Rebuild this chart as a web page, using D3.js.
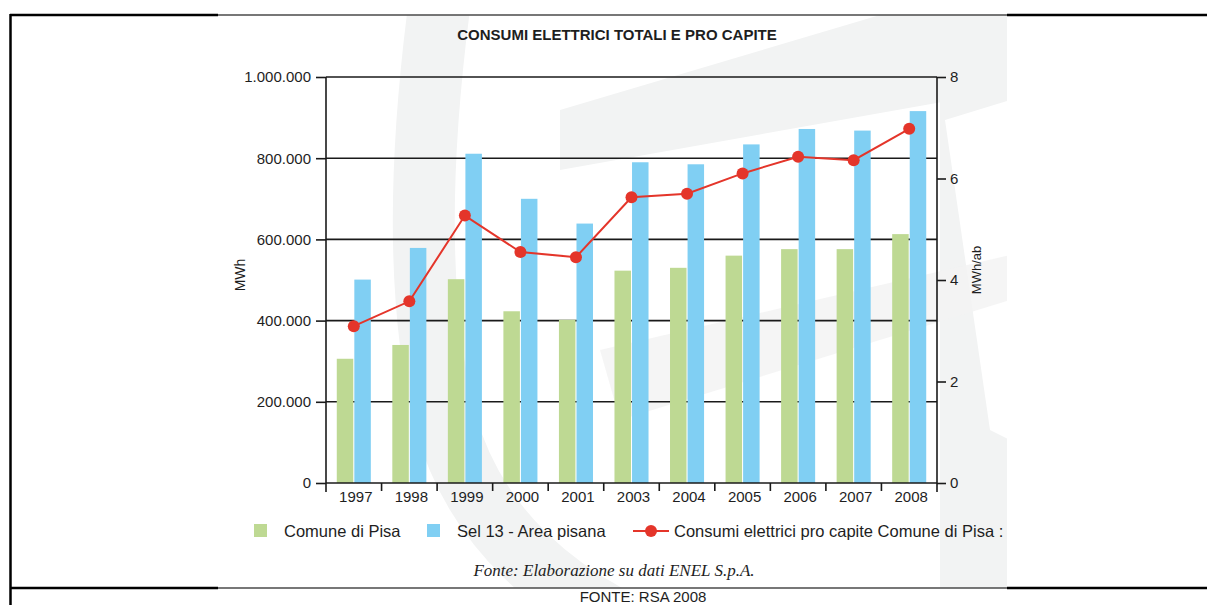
<!DOCTYPE html>
<html>
<head>
<meta charset="utf-8">
<script src="https://cdn.jsdelivr.net/npm/d3@7"></script>
<style>
  html, body { margin: 0; padding: 0; background: #fff; }
  svg { display: block; }
  text { font-family: "Liberation Sans", Arial, sans-serif; fill: #1e1e1e; }
</style>
</head>
<body>
<svg id="chart" width="1207" height="605"></svg>
<script>
// Annual electricity consumption, Pisa municipality vs. SEL 13 area (MWh),
// with per-capita consumption of the municipality (MWh per inhabitant).
const years = ["1997", "1998", "1999", "2000", "2001", "2003", "2004", "2005", "2006", "2007", "2008"];
const comunePisa = [306000, 340000, 502000, 423000, 402000, 523000, 530000, 560000, 576000, 576000, 613000];
const areaPisana = [501000, 579000, 811000, 700000, 639000, 790000, 785000, 834000, 872000, 868000, 916000];
const proCapite = [3.09, 3.58, 5.27, 4.55, 4.45, 5.63, 5.70, 6.10, 6.43, 6.36, 6.98];
const leftTicks = [0, 200000, 400000, 600000, 800000, 1000000];
const rightTicks = [0, 2, 4, 6, 8];
const seriesNames = ["Comune di Pisa", "Sel 13 - Area pisana", "Consumi elettrici pro capite Comune di Pisa :"];

const colors = { green: "#bed993", blue: "#80cff3", red: "#e4352a" };

const svg = d3.select("#chart");
const W = 1207, H = 605;

// page frame
const frame = svg.append("g");
const pic = { x0: 218, x1: 1007, y0: 15, y1: 588 };

// faint logo watermark inside the embedded figure
const defs = svg.append("defs");
defs.append("clipPath").attr("id", "picClip")
  .append("rect").attr("x", pic.x0).attr("y", pic.y0)
  .attr("width", pic.x1 - pic.x0).attr("height", pic.y1 - pic.y0);
const wm = svg.append("g").attr("clip-path", "url(#picClip)");
const wmFill = "#f2f3f3";
// sweeping left arc
wm.append("path")
  .attr("d", "M440,0 C420,150 415,300 445,420 C475,530 560,600 660,640")
  .attr("fill", "none").attr("stroke", wmFill).attr("stroke-width", 62);
// top-right band
wm.append("path")
  .attr("d", "M560,170 L1010,90 L1010,15 L880,15 L560,110 Z")
  .attr("fill", wmFill);
// right strip with diagonal cuts
wm.append("path")
  .attr("d", "M940,15 L1010,15 L1010,588 L940,588 Z")
  .attr("fill", wmFill);
wm.append("path")
  .attr("d", "M1010,100 L945,120 L990,430 L1010,440 Z")
  .attr("fill", "#ffffff");
// lower band
wm.append("path")
  .attr("d", "M600,350 L1010,255 L1010,300 L620,420 Z")
  .attr("fill", wmFill).attr("opacity", 0.8);

// frame lines
frame.raise();
const blackLines = [
  [10, 15, pic.x0, 15], [pic.x1, 15, W, 15],
  [10, 588, pic.x0, 588], [pic.x1, 588, W, 588]
];
blackLines.forEach(l => frame.append("line")
  .attr("x1", l[0]).attr("y1", l[1]).attr("x2", l[2]).attr("y2", l[3])
  .attr("stroke", "#000").attr("stroke-width", 2.5));
[[pic.x0, 15, pic.x1, 15], [pic.x0, 588, pic.x1, 588]].forEach(l => frame.append("line")
  .attr("x1", l[0]).attr("y1", l[1]).attr("x2", l[2]).attr("y2", l[3])
  .attr("stroke", "#4a4a4a").attr("stroke-width", 1.6));
frame.append("line").attr("x1", 10.5).attr("y1", 14).attr("x2", 10.5).attr("y2", H)
  .attr("stroke", "#000").attr("stroke-width", 2.5);

// plot geometry
const plot = { left: 326, right: 937, top: 77, bottom: 483 };

const x = d3.scaleBand().domain(years)
  .range([plot.left, plot.right]).paddingInner(0.387).paddingOuter(0.194);
const xSub = d3.scaleBand().domain(["comune", "area"])
  .range([0, x.bandwidth()]).paddingInner(0.06);
const yL = d3.scaleLinear().domain([0, 1000000]).range([plot.bottom, plot.top]);
const yR = d3.scaleLinear().domain([0, 8]).range([plot.bottom, plot.top]);

const it = d3.formatLocale({ decimal: ",", thousands: ".", grouping: [3], currency: ["€", ""] });
const fmt = it.format(",d");

const g = svg.append("g");

// horizontal grid lines (behind bars)
g.append("g").selectAll("line").data(leftTicks.filter(d => d > 0)).join("line")
  .attr("x1", plot.left).attr("x2", plot.right)
  .attr("y1", d => yL(d)).attr("y2", d => yL(d))
  .attr("stroke", "#1a1a1a").attr("stroke-width", 1.6);

// bars
const barG = g.append("g");
barG.selectAll("rect.comune").data(years).join("rect")
  .attr("x", (d) => x(d) + xSub("comune"))
  .attr("width", xSub.bandwidth())
  .attr("y", (d, i) => yL(comunePisa[i]))
  .attr("height", (d, i) => yL(0) - yL(comunePisa[i]))
  .attr("fill", colors.green);
barG.selectAll("rect.area").data(years).join("rect")
  .attr("x", (d) => x(d) + xSub("area"))
  .attr("width", xSub.bandwidth())
  .attr("y", (d, i) => yL(areaPisana[i]))
  .attr("height", (d, i) => yL(0) - yL(areaPisana[i]))
  .attr("fill", colors.blue);

// left axis
const leftAxis = d3.axisLeft(yL).tickValues(leftTicks).tickFormat(fmt).tickSize(10).tickPadding(5);
const la = g.append("g").attr("transform", `translate(${plot.left},0)`).call(leftAxis);
la.select(".domain").remove();
la.selectAll(".tick line").attr("stroke", "#1a1a1a").attr("stroke-width", 1.6);
la.selectAll("text").style("font-size", "15px").attr("fill", "#1e1e1e").style("font-family", "Liberation Sans, Arial, sans-serif");
g.append("line").attr("x1", plot.left).attr("x2", plot.left)
  .attr("y1", plot.top).attr("y2", plot.bottom + 9)
  .attr("stroke", "#1a1a1a").attr("stroke-width", 1.6);

// right axis
const rightAxis = d3.axisRight(yR).tickValues(rightTicks).tickSize(9).tickPadding(4);
const ra = g.append("g").attr("transform", `translate(${plot.right},0)`).call(rightAxis);
ra.select(".domain").remove();
ra.selectAll(".tick line").attr("stroke", "#1a1a1a").attr("stroke-width", 1.6);
ra.selectAll("text").style("font-size", "15px").attr("fill", "#1e1e1e").style("font-family", "Liberation Sans, Arial, sans-serif");
g.append("line").attr("x1", plot.right).attr("x2", plot.right)
  .attr("y1", plot.top).attr("y2", plot.bottom + 9)
  .attr("stroke", "#1a1a1a").attr("stroke-width", 1.6);

// bottom axis: baseline, separators between categories, year labels
g.append("line").attr("x1", plot.left).attr("x2", plot.right)
  .attr("y1", plot.bottom).attr("y2", plot.bottom)
  .attr("stroke", "#1a1a1a").attr("stroke-width", 1.6);
const step = x.step();
g.append("g").selectAll("line").data(years.slice(1)).join("line")
  .attr("x1", d => x(d) - step * x.paddingInner() / 2)
  .attr("x2", d => x(d) - step * x.paddingInner() / 2)
  .attr("y1", plot.bottom).attr("y2", plot.bottom + 8)
  .attr("stroke", "#1a1a1a").attr("stroke-width", 1.6);
g.append("g").selectAll("text").data(years).join("text")
  .attr("x", d => x(d) + x.bandwidth() / 2 + 2)
  .attr("y", plot.bottom + 19)
  .attr("text-anchor", "middle")
  .style("font-size", "15px")
  .text(d => d);

// per-capita line
const cx = d => x(d) + x.bandwidth() / 2;
const line = d3.line().x((d, i) => cx(years[i])).y(d => yR(d));
g.append("path").datum(proCapite)
  .attr("d", line).attr("fill", "none")
  .attr("stroke", colors.red).attr("stroke-width", 2);
g.append("g").selectAll("circle").data(proCapite).join("circle")
  .attr("cx", (d, i) => cx(years[i])).attr("cy", d => yR(d))
  .attr("r", 6).attr("fill", colors.red);

// axis titles
svg.append("text")
  .attr("transform", `translate(245,275) rotate(-90)`)
  .attr("text-anchor", "middle")
  .style("font-size", "14px")
  .text("MWh");
svg.append("text")
  .attr("transform", `translate(981,270) rotate(-90)`)
  .attr("text-anchor", "middle")
  .style("font-size", "13px")
  .text("MWh/ab");

// title
svg.append("text")
  .attr("x", 617).attr("y", 40)
  .attr("text-anchor", "middle")
  .style("font-size", "15px").style("font-weight", "bold")
  .text("CONSUMI ELETTRICI TOTALI E PRO CAPITE");

// legend
const leg = svg.append("g").attr("clip-path", "url(#picClip)");
const legY = 531;
leg.append("rect").attr("x", 254).attr("y", legY - 7).attr("width", 13).attr("height", 13).attr("fill", colors.green);
leg.append("text").attr("x", 284).attr("y", legY + 6).style("font-size", "16.5px").text(seriesNames[0]);
leg.append("rect").attr("x", 427).attr("y", legY - 7).attr("width", 13).attr("height", 13).attr("fill", colors.blue);
leg.append("text").attr("x", 457).attr("y", legY + 6).style("font-size", "16.5px").text(seriesNames[1]);
leg.append("line").attr("x1", 633).attr("x2", 669).attr("y1", legY).attr("y2", legY)
  .attr("stroke", colors.red).attr("stroke-width", 2);
leg.append("circle").attr("cx", 651).attr("cy", legY).attr("r", 6).attr("fill", colors.red);
leg.append("text").attr("x", 674).attr("y", legY + 6).style("font-size", "16.5px").text(seriesNames[2]);

// source notes
svg.append("text")
  .attr("x", 614).attr("y", 576)
  .attr("text-anchor", "middle")
  .style("font-family", "Liberation Serif, 'Times New Roman', serif")
  .style("font-style", "italic")
  .style("font-size", "17px")
  .text("Fonte: Elaborazione su dati ENEL S.p.A.");
svg.append("text")
  .attr("x", 643).attr("y", 602)
  .attr("text-anchor", "middle")
  .style("font-size", "15px")
  .text("FONTE: RSA 2008");
</script>
</body>
</html>
